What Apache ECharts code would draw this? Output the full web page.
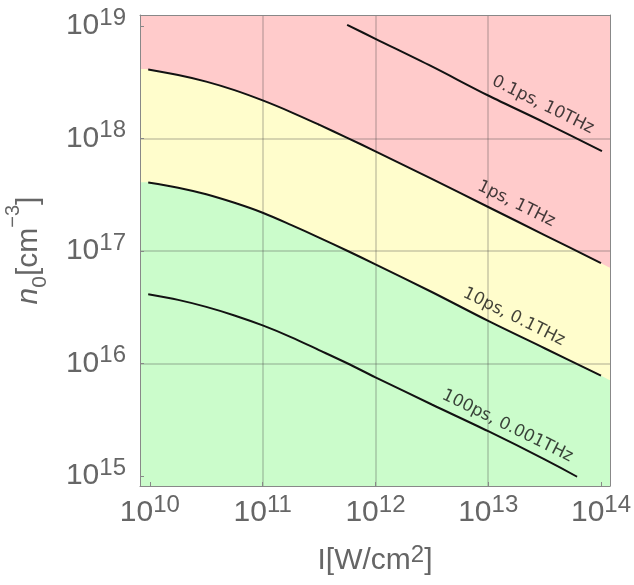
<!DOCTYPE html>
<html>
<head>
<meta charset="utf-8">
<script src="https://cdn.jsdelivr.net/npm/echarts@6/dist/echarts.min.js"></script>
<style>html,body{margin:0;padding:0;background:#fff}#c{width:634px;height:585px}</style>
</head>
<body>
<div id="c"></div>
<script>
// ---- data ----
const intensity = [9.66e9, 1.78e10, 3.16e10, 5.62e10, 1e11, 1.78e11, 3.16e11, 5.62e11, 1e12, 3.16e12, 1e13, 3.16e13, 1e14];
const n_1ps   = [4.08e18, 3.65e18, 3.19e18, 2.68e18, 2.17e18, 1.71e18, 1.32e18, 1.01e18, 7.66e17, 4.35e17, 2.45e17, 1.38e17, 7.76e16];
const n_10ps  = [4.05e17, 3.64e17, 3.18e17, 2.67e17, 2.18e17, 1.70e17, 1.31e17, 1.00e17, 7.58e16, 4.30e16, 2.38e16, 1.36e16, 7.76e15];
const intensity_100ps = [9.66e9, 1.78e10, 3.16e10, 5.62e10, 1e11, 1.78e11, 3.16e11, 5.62e11, 1e12, 3.16e12, 1e13, 3.16e13, 6.14e13];
const n_100ps = [4.10e16, 3.66e16, 3.17e16, 2.66e16, 2.17e16, 1.71e16, 1.31e16, 1.00e16, 7.50e15, 4.30e15, 2.49e15, 1.40e15, 9.8e14];
const intensity_01ps = [5.61e11, 1e12, 3.16e12, 1e13, 3.16e13, 1.02e14];
const n_01ps  = [1.02e19, 7.66e18, 4.35e18, 2.40e18, 1.38e18, 7.70e17];

// colored regions: boundary values at left / right plot edges
const xRange = [8.17e9, 1.202e14];
const yRange = [8.11e14, 1.247e19];
const redYellowEdge = [4.12e18, 7.08e16];
const yellowGreenEdge = [4.06e17, 7.08e15];

// tick values
const xTicks = [1e10, 1e11, 1e12, 1e13, 1e14];
const yTicks = [1e15, 1e16, 1e17, 1e18, 1e19];
const xGrid = [1e11, 1e12, 1e13];
const yGrid = [1e16, 1e17, 1e18];

// curve labels
const labelText = ['0.1ps, 10THz', '1ps, 1THz', '10ps, 0.1THz', '100ps, 0.001THz'];
const labelI = [3.05e13, 1.77e13, 1.69e13, 1.48e13];
const labelN = [1.98e18, 2.61e17, 2.58e16, 2.77e15];

// ---- build ----
const zip = (xs, ys) => xs.map((x, i) => [x, ys[i]]);
const boundary = (xs, ys, edge) => [[xRange[0], edge[0]]].concat(zip(xs, ys), [[xRange[1], edge[1]]]);

const FONT = 'Liberation Sans';
const GREY = '#666666';
const supLabel = v => '{b|10}{s|' + Math.round(Math.log10(v)) + '}';
const tickRich = {
  b: {fontSize: 30, lineHeight: 30, verticalAlign: 'bottom', fontFamily: FONT, color: GREY},
  s: {fontSize: 24, lineHeight: 24, padding: [0, 0, 15, 0], fontFamily: FONT, color: GREY}
};

const curveStyle = {color: '#121212', width: 2};
function curve(name, xs, ys) {
  return {name, type: 'line', data: zip(xs, ys), symbol: 'none', smooth: 0.3, z: 10,
    lineStyle: curveStyle, itemStyle: {color: '#121212'}, silent: true};
}

const chart = echarts.init(document.getElementById('c'), null, {renderer: 'canvas'});
chart.setOption({
  animation: false,
  backgroundColor: '#ffffff',
  grid: {left: 140, right: 24, top: 15, bottom: 99, show: true, backgroundColor: '#fffdcc', borderWidth: 0,
    containLabel: false, outerBoundsMode: 'none'},
  xAxis: [{
    type: 'log', logBase: 10, min: xRange[0], max: xRange[1], z: 20,
    axisLine: {show: true, lineStyle: {color: '#888', width: 1}},
    axisTick: {show: true, inside: true, length: 4, customValues: xTicks, lineStyle: {color: '#888'}},
    splitLine: {show: false}, minorTick: {show: false},
    axisLabel: {customValues: xTicks, margin: 12, formatter: supLabel, rich: tickRich},
    name: '{t|I[W/cm}{s|2}{t|]}',
    nameLocation: 'middle', nameGap: 60,
    nameTextStyle: {rich: {
      t: {fontSize: 30, lineHeight: 30, verticalAlign: 'bottom', fontFamily: FONT, color: GREY},
      s: {fontSize: 24, lineHeight: 24, padding: [0, 0, 12, 0], fontFamily: FONT, color: GREY}
    }}
  }, {
    type: 'log', logBase: 10, min: xRange[0], max: xRange[1], position: 'top', z: 20,
    axisLine: {show: true, onZero: false, lineStyle: {color: '#888', width: 1}},
    axisTick: {show: false}, axisLabel: {show: false}, splitLine: {show: false}
  }],
  yAxis: [{
    type: 'log', logBase: 10, min: yRange[0], max: yRange[1], z: 20,
    axisLine: {show: true, lineStyle: {color: '#888', width: 1}},
    axisTick: {show: true, inside: true, length: 4, customValues: yTicks, lineStyle: {color: '#888'}},
    splitLine: {show: false}, minorTick: {show: false},
    axisLabel: {customValues: yTicks, margin: 14, formatter: supLabel, rich: tickRich},
    name: '{i|n}{sub|0}{t|[cm}{sup|−3}{t|]}',
    nameLocation: 'middle', nameGap: 84, nameRotate: 90,
    nameTextStyle: {rich: {
      i: {fontSize: 30, lineHeight: 30, fontStyle: 'italic', fontFamily: FONT, color: GREY},
      t: {fontSize: 30, lineHeight: 30, fontFamily: FONT, color: GREY},
      sub: {fontSize: 21, lineHeight: 21, padding: [16, 0, 0, 0], verticalAlign: 'top', fontFamily: FONT, color: GREY},
      sup: {fontSize: 20, lineHeight: 12, padding: [0, 0, 32, 0], fontFamily: FONT, color: GREY}
    }}
  }, {
    type: 'log', logBase: 10, min: yRange[0], max: yRange[1], position: 'right', z: 20,
    axisLine: {show: true, onZero: false, lineStyle: {color: '#888', width: 1}},
    axisTick: {show: false}, axisLabel: {show: false}, splitLine: {show: false}
  }],
  series: [
    {name: 'red', type: 'line', data: boundary(intensity, n_1ps, redYellowEdge), symbol: 'none', smooth: 0.3,
      lineStyle: {width: 0}, areaStyle: {color: '#ffcbcb', opacity: 1, origin: 'end'}, z: 1, silent: true},
    {name: 'green', type: 'line', data: boundary(intensity, n_10ps, yellowGreenEdge), symbol: 'none', smooth: 0.3,
      lineStyle: {width: 0}, areaStyle: {color: '#cbfccb', opacity: 1, origin: 'start'}, z: 1, silent: true},
    {name: 'grid', type: 'line', data: [], silent: true,
      markLine: {silent: true, symbol: 'none', z: 5, label: {show: false},
        lineStyle: {color: 'rgba(70,70,70,0.22)', width: 2, type: 'solid'},
        data: xGrid.map(v => ({xAxis: v})).concat(yGrid.map(v => ({yAxis: v})))}},
    curve('0.1ps', intensity_01ps, n_01ps),
    curve('1ps', intensity, n_1ps),
    curve('10ps', intensity, n_10ps),
    curve('100ps', intensity_100ps, n_100ps),
    {name: 'labels', type: 'scatter', z: 12, silent: true, symbolSize: 1,
      itemStyle: {color: 'rgba(0,0,0,0)'},
      data: labelI.map((x, i) => ({value: [x, labelN[i]], name: labelText[i]})),
      label: {show: true, position: 'inside', rotate: -26.3, formatter: p => p.name,
        fontFamily: 'DejaVu Sans', fontSize: 17, color: '#111'}}
  ]
});
</script>
</body>
</html>
